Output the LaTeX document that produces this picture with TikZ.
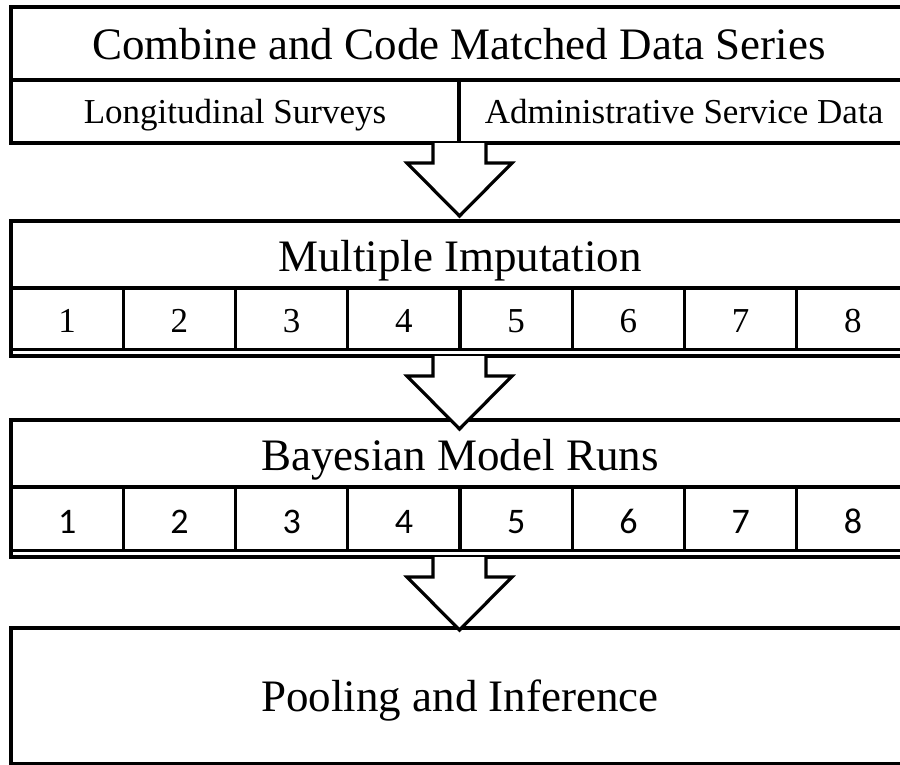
\documentclass[tikz,border=0pt]{standalone}
\usepackage{fontspec}
\setmainfont{Liberation Serif}
\newfontfamily\calfont{Carlito}
\begin{document}
\begin{tikzpicture}[x=1pt,y=-1pt,
  frame/.style={draw=black,line width=3.2pt,line join=miter},
  rule/.style={draw=black,line width=3.2pt},
  big/.style={font=\fontsize{45}{54}\selectfont,anchor=base,inner sep=0pt},
  small/.style={font=\fontsize{35}{42}\selectfont,anchor=base,inner sep=0pt},
  smallsans/.style={font=\calfont\fontsize{36}{42}\selectfont,anchor=base,inner sep=0pt},
  flow/.style={draw=black,fill=white,line width=3.2pt,line join=miter}]
\useasboundingbox (0,0) rectangle (900,764);
\clip (0,0) rectangle (900,764);

% stage 1: combined data
\draw[frame] (11,7) rectangle (909,143);
\draw[rule] (11,80) -- (909,80);
\draw[rule] (459,80) -- (459,143);
\node[big] (s1) at (459,59) {Combine and Code Matched Data Series};
\node[small] (s1a) at (235,123) {Longitudinal Surveys};
\node[small] (s1b) at (684,123) {Administrative Service Data};

% stage 2: imputations
\draw[frame] (11,221) rectangle (909,356);
\draw[rule] (11,288) -- (909,288);
\draw[rule] (11,349.5) -- (909,349.5);
\node[big] (s2) at (460,271) {Multiple Imputation};
\foreach \i in {1,...,8}{
  \pgfmathsetmacro\cx{11+112.25*(\i-0.5)}
  \node[small] (m\i) at (\cx,332) {\i};
}
\foreach \i in {1,...,7}{
  \pgfmathsetmacro\dx{11+112.25*\i}
  \draw[rule] (\dx,288) -- (\dx,349.5);
}

% stage 3: model runs
\draw[frame] (11,420) rectangle (909,557);
\draw[rule] (11,487) -- (909,487);
\draw[rule] (11,550.5) -- (909,550.5);
\node[big] (s3) at (460,470) {Bayesian Model Runs};
\foreach \i in {1,...,8}{
  \pgfmathsetmacro\cx{11+112.25*(\i-0.5)}
  \node[smallsans] (b\i) at (\cx,533) {\i};
}
\foreach \i in {1,...,7}{
  \pgfmathsetmacro\dx{11+112.25*\i}
  \draw[rule] (\dx,487) -- (\dx,550.5);
}

% stage 4: pooling
\draw[frame] (11,628) rectangle (909,764);
\node[big] (s4) at (460,711) {Pooling and Inference};

% block arrows between stages
\foreach \top/\tip in {143/216, 356/429, 557/630}{
  \pgfmathsetmacro\neck{\tip-53}
  \path[flow] (433,\top) -- (433,\neck) -- (407,\neck) -- (459.5,\tip)
    -- (512,\neck) -- (486,\neck) -- (486,\top);
}
\end{tikzpicture}
\end{document}
